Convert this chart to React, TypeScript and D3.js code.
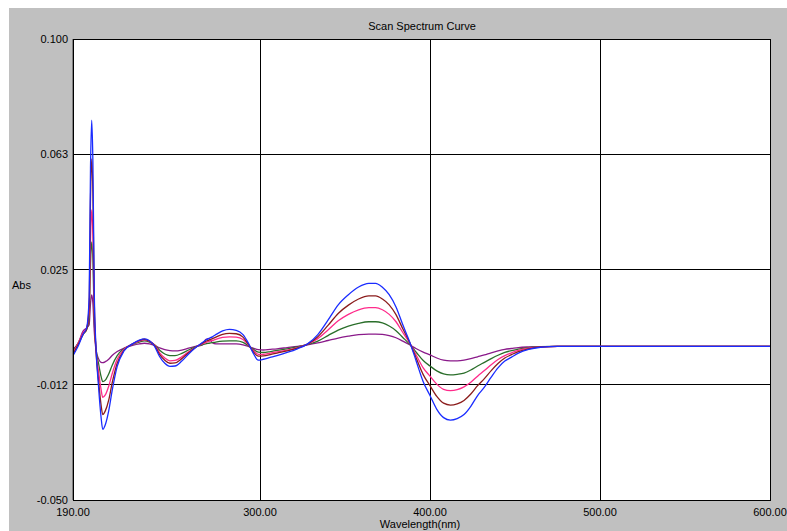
import React from "react";
import * as d3 from "d3";

const wavelengths = [190, 193, 196, 198, 199.5, 200.3, 201, 201.7, 202.5, 203.5, 205, 206.5, 207.5, 209, 211, 213, 216, 220, 225, 229, 232, 235, 238, 241, 244, 247, 250, 254, 258, 262, 266, 268, 270, 272, 274, 278, 282, 286, 290, 293, 296, 299, 302, 306, 310, 316, 322, 328, 334, 340, 346, 352, 358, 364, 368, 372, 376, 380, 384, 388, 392, 396, 400, 404, 408, 412, 416, 420, 424, 428, 432, 436, 440, 444, 448, 452, 458, 465, 475, 500, 550, 600];

const blue = [-0.003, 0.0, 0.004, 0.006, 0.016, 0.058, 0.0736, 0.06, 0.018, 0.0, -0.013, -0.023, -0.027, -0.0255, -0.021, -0.0145, -0.0065, -0.0015, 0.0008, 0.002, 0.0024, 0.0018, 0.0, -0.0034, -0.0055, -0.0065, -0.0064, -0.0048, -0.0025, -0.0005, 0.0012, 0.002, 0.0026, 0.0031, 0.0038, 0.005, 0.0055, 0.0052, 0.0038, 0.0012, -0.0022, -0.0045, -0.0042, -0.0036, -0.003, -0.002, -0.0008, 0.0008, 0.0038, 0.0085, 0.0135, 0.0168, 0.0193, 0.0205, 0.0205, 0.0192, 0.0168, 0.0128, 0.007, 0.0015, -0.005, -0.0115, -0.016, -0.0205, -0.0232, -0.024, -0.0235, -0.0222, -0.0195, -0.016, -0.0133, -0.01, -0.007, -0.0048, -0.0035, -0.0022, -0.001, -0.0003, 0, 0, 0, 0];

const maroon = [-0.0025, 0.0005, 0.004, 0.0055, 0.013, 0.048, 0.061, 0.05, 0.015, -0.001, -0.011, -0.019, -0.0222, -0.021, -0.0175, -0.012, -0.0055, -0.0013, 0.0008, 0.0019, 0.0023, 0.0017, 0.0002, -0.0027, -0.0045, -0.0055, -0.0054, -0.004, -0.0021, -0.0004, 0.001, 0.0016, 0.002, 0.0025, 0.003, 0.0039, 0.0042, 0.0041, 0.003, 0.0008, -0.0017, -0.0032, -0.0031, -0.0027, -0.0022, -0.0015, -0.0006, 0.0007, 0.0031, 0.0068, 0.0107, 0.0134, 0.0154, 0.0164, 0.0164, 0.0154, 0.0135, 0.0103, 0.0057, 0.0013, -0.004, -0.0092, -0.0128, -0.0163, -0.0185, -0.0191, -0.0187, -0.0176, -0.0155, -0.0128, -0.0105, -0.0079, -0.0056, -0.0038, -0.0027, -0.0017, -0.0008, -0.0002, 0, 0, 0, 0];

const pink = [-0.002, 0.001, 0.0045, 0.006, 0.011, 0.035, 0.0444, 0.036, 0.011, -0.001, -0.008, -0.014, -0.0166, -0.0158, -0.013, -0.009, -0.0042, -0.001, 0.0007, 0.0017, 0.0021, 0.0016, 0.0004, -0.0021, -0.0038, -0.0047, -0.0046, -0.0034, -0.0018, -0.0003, 0.0008, 0.0012, 0.0016, 0.0019, 0.0023, 0.0029, 0.0031, 0.003, 0.0022, 0.0006, -0.0013, -0.0026, -0.0026, -0.0022, -0.0018, -0.0012, -0.0004, 0.0007, 0.0025, 0.0053, 0.0083, 0.0104, 0.0119, 0.0126, 0.0126, 0.0119, 0.0104, 0.008, 0.0045, 0.0011, -0.003, -0.007, -0.0097, -0.0123, -0.014, -0.0144, -0.0141, -0.0132, -0.0117, -0.0097, -0.0079, -0.006, -0.0043, -0.003, -0.0021, -0.0013, -0.0006, -0.0002, 0, 0, 0, 0];

const green = [-0.0015, 0.001, 0.004, 0.0055, 0.009, 0.027, 0.034, 0.028, 0.009, -0.0005, -0.0055, -0.0098, -0.0115, -0.011, -0.009, -0.0062, -0.003, -0.0008, 0.0006, 0.0014, 0.0018, 0.0014, 0.0005, -0.0013, -0.0025, -0.003, -0.003, -0.0023, -0.0012, -0.0002, 0.0005, 0.0008, 0.001, 0.0012, 0.0014, 0.0017, 0.0018, 0.0018, 0.0013, 0.0003, -0.0009, -0.0019, -0.002, -0.0017, -0.0013, -0.0008, -0.0002, 0.0006, 0.0017, 0.0035, 0.0053, 0.0066, 0.0075, 0.008, 0.008, 0.0076, 0.0066, 0.0051, 0.0029, 0.0007, -0.002, -0.0046, -0.0064, -0.008, -0.009, -0.0093, -0.0091, -0.0087, -0.0077, -0.0064, -0.0052, -0.004, -0.0029, -0.002, -0.0014, -0.0009, -0.0004, -0.0001, 0, 0, 0, 0];

const purple = [-0.001, 0.001, 0.005, 0.006, 0.007, 0.014, 0.0167, 0.014, 0.005, -0.001, -0.004, -0.0052, -0.0053, -0.005, -0.0042, -0.003, -0.0017, -0.0006, 0.0003, 0.0008, 0.001, 0.0008, 0.0003, -0.0005, -0.0011, -0.0014, -0.0015, -0.0012, -0.0006, 0.0, 0.0005, 0.0022, 0.0025, 0.0012, 0.0008, 0.0008, 0.0008, 0.0008, 0.0005, 0.0, -0.0006, -0.0011, -0.0012, -0.001, -0.0008, -0.0004, 0.0, 0.0005, 0.0011, 0.0019, 0.0027, 0.0033, 0.0038, 0.004, 0.004, 0.0039, 0.0035, 0.0028, 0.0017, 0.0005, -0.0008, -0.0019, -0.0028, -0.0038, -0.0045, -0.0047, -0.0047, -0.0045, -0.004, -0.0034, -0.0028, -0.0021, -0.0015, -0.001, -0.0007, -0.0004, -0.0002, -0.0001, 0, 0, 0, 0];

const xTicks = [190, 300, 400, 500, 600];
const xTickLabels = ["190.00", "300.00", "400.00", "500.00", "600.00"];
const yTicks = [0.1, 0.0625, 0.025, -0.0125, -0.05];
const yTickLabels = ["0.100", "0.063", "0.025", "-0.012", "-0.050"];

const seriesList = [
  { name: "purple", values: purple, color: "#8a1a8a" },
  { name: "green", values: green, color: "#2a6e2a" },
  { name: "pink", values: pink, color: "#ff2a8a" },
  { name: "maroon", values: maroon, color: "#8b1c1c" },
  { name: "blue", values: blue, color: "#1a2cff" },
];

const W = 787;
const H = 531;
const L = 73;
const R = 770;
const T = 39;
const B = 500;
const FONT = "'Liberation Sans', Arial, sans-serif";

export default function App() {
  const x = d3.scaleLinear().domain([190, 600]).range([L, R]);
  const y = d3.scaleLinear().domain([-0.05, 0.1]).range([B, T]);
  const line = d3
    .line<number>()
    .x((_, i) => x(wavelengths[i]))
    .y((d) => y(d))
    .curve(d3.curveMonotoneX);

  return (
    <svg
      width={W}
      height={H}
      style={{ position: "absolute", left: 0, top: 0, display: "block" }}
    >
      <rect x={0} y={0} width={W} height={H} fill="#ffffff" />
      <rect x={9} y={8} width={W - 9} height={H - 8} fill="#c0c0c0" />
      <rect x={L} y={T} width={R - L} height={B - T} fill="#ffffff" />
      <text x={422} y={30} fontFamily={FONT} fontSize={11} textAnchor="middle" fill="#000">
        Scan Spectrum Curve
      </text>
      <defs>
        <clipPath id="plotclip">
          <rect x={L} y={T} width={R - L} height={B - T} />
        </clipPath>
      </defs>
      {xTicks.slice(1, -1).map((t) => (
        <line key={"gx" + t} x1={x(t)} x2={x(t)} y1={T} y2={B} stroke="#000" strokeWidth={1} shapeRendering="crispEdges" />
      ))}
      {yTicks.slice(1, -1).map((t) => (
        <line key={"gy" + t} x1={L} x2={R} y1={y(t)} y2={y(t)} stroke="#000" strokeWidth={1} shapeRendering="crispEdges" />
      ))}
      <g clipPath="url(#plotclip)">
        {seriesList.map((s) => (
          <path key={s.name} d={line(s.values) || ""} fill="none" stroke={s.color} strokeWidth={1.3} strokeLinejoin="round" />
        ))}
      </g>
      <rect x={L} y={T} width={R - L} height={B - T} fill="none" stroke="#000" strokeWidth={1} shapeRendering="crispEdges" />
      <line x1={L - 1} x2={L - 1} y1={T} y2={B} stroke="#808080" strokeWidth={1} shapeRendering="crispEdges" />
      {yTicks.map((t, i) => (
        <text key={"yl" + t} x={68} y={y(t) + 4} fontFamily={FONT} fontSize={11} textAnchor="end" fill="#000">
          {yTickLabels[i]}
        </text>
      ))}
      {xTicks.map((t, i) => (
        <text key={"xl" + t} x={x(t)} y={516} fontFamily={FONT} fontSize={11} textAnchor="middle" fill="#000">
          {xTickLabels[i]}
        </text>
      ))}
      <text x={420} y={528} fontFamily={FONT} fontSize={11} textAnchor="middle" fill="#000">
        Wavelength(nm)
      </text>
      <text x={12} y={289} fontFamily={FONT} fontSize={11} textAnchor="start" fill="#000">
        Abs
      </text>
    </svg>
  );
}
